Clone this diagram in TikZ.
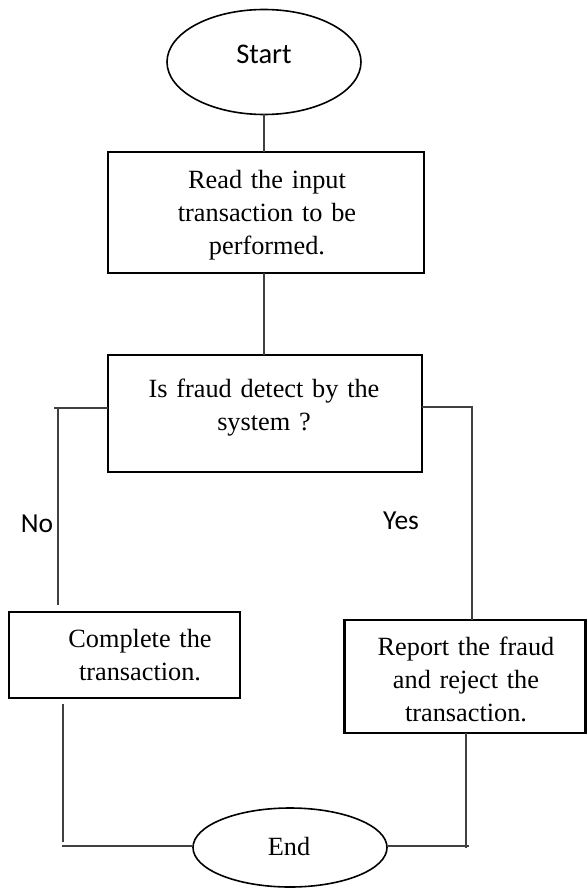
\documentclass[tikz,border=0pt]{standalone}
\usepackage{fontspec}
\setmainfont{Liberation Serif}
\newfontfamily\calib{Carlito}
\usetikzlibrary{shapes.geometric}
\begin{document}
\begin{tikzpicture}[x=1pt,y=-1pt,
  flowbox/.style={draw=black, line width=2.4pt, inner sep=0pt, outer sep=0pt},
  terminal/.style={draw=black, ellipse, line width=1.6pt, inner sep=0pt, outer sep=0pt},
  conn/.style={draw=black!75, line width=1.1pt},
  serif/.style={font=\fontsize{26.3}{33}\selectfont, align=center, text width=300pt, anchor=base, inner sep=0pt},
  sans/.style={font=\calib\fontsize{27.5}{33}\selectfont, anchor=base, inner sep=0pt}]
\path[use as bounding box] (0,0) rectangle (587,888);
% nodes
\node[terminal, minimum width=194pt, minimum height=105pt] (start) at (264,62) {};
\node[sans, font=\calib\fontsize{28.5}{33}\selectfont] (starttxt) at (264,64) {Start};
\node[flowbox, minimum width=316pt, minimum height=121pt] (read) at (266,212.5) {};
\node[serif] (readtxt) at (267,188) {Read the input\\transaction to be\\performed.};
\node[flowbox, minimum width=314pt, minimum height=117pt] (dec) at (265,413.5) {};
\node[serif] (dectxt) at (264,397) {Is fraud detect by the\\system ?};
\node[flowbox, minimum width=231pt, minimum height=86pt] (comp) at (124.5,655) {};
\node[serif] (comptxt) at (140,647) {Complete the\\transaction.};
\node[flowbox, minimum width=241pt, minimum height=113pt] (rep) at (465,676.5) {};
\node[serif] (reptxt) at (466,655) {Report the fraud\\and reject the\\transaction.};
\node[terminal, minimum width=194pt, minimum height=79pt] (end) at (290,847.5) {};
\node[serif] (endtxt) at (289,855) {End};
\node[sans] (no) at (37,532) {No};
\node[sans] (yes) at (401,529) {Yes};
% coordinates
\coordinate (l1) at (54,408);
\coordinate (l2) at (58,408);
\coordinate (l3) at (58,605);
\coordinate (r1) at (472,407);
\coordinate (bl1) at (63,704);
\coordinate (bl2) at (63,842);
\coordinate (bl3) at (62,846);
\coordinate (br) at (466,848);
\coordinate (bh) at (469,846);
% connectors
\draw[conn] (start.south) -- (start.south |- read.north);
\draw[conn] (start.south |- read.south) -- (start.south |- dec.north);
\draw[conn] (dec.west |- l1) -- (l1);
\draw[conn] (l2) -- (l3);
\draw[conn] (dec.east |- r1) -- (r1) -- (r1 |- rep.north);
\draw[conn] (bl1) -- (bl2);
\draw[conn] (bl3) -- (end.west |- bl3);
\draw[conn] (rep.south -| br) -- (br);
\draw[conn] (end.east |- bh) -- (bh);
\end{tikzpicture}
\end{document}
